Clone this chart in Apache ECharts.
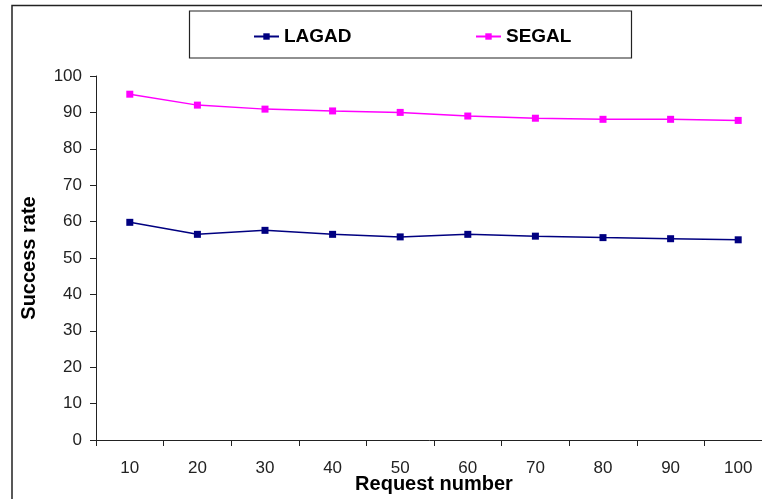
<!DOCTYPE html>
<html>
<head>
<meta charset="utf-8">
<script src="https://cdn.jsdelivr.net/npm/echarts@6/dist/echarts.min.js"></script>
<style>
html,body{margin:0;padding:0;background:#fff;}
#c{width:762px;height:499px;}
</style>
</head>
<body>
<div id="c"></div>
<script>
var categories = ['10','20','30','40','50','60','70','80','90','100'];
var lagad = [59.8, 56.5, 57.6, 56.5, 55.8, 56.5, 56.0, 55.6, 55.3, 55.0];
var segal = [95.0, 92.0, 90.9, 90.4, 90.0, 89.0, 88.4, 88.1, 88.1, 87.8];
var yTicks = {min: 0, max: 100, interval: 10};

var font = 'Liberation Sans, Arial, sans-serif';
var chart = echarts.init(document.getElementById('c'), null, {renderer: 'canvas'});
chart.setOption({
  animation: false,
  backgroundColor: '#fff',
  graphic: [
    {type: 'polyline', shape: {points: [[12, 499], [12, 5.5], [762, 5.5]]}, style: {stroke: '#222', lineWidth: 1.5, fill: null}},
    {type: 'rect', shape: {x: 189.5, y: 11, width: 442, height: 47}, style: {stroke: '#222', lineWidth: 1.2, fill: '#fff'}, z: -1}
  ],
  legend: [
    {data: ['LAGAD'], left: 248, top: 22, itemWidth: 25, itemHeight: 8, textStyle: {fontFamily: font, fontSize: 19, fontWeight: 'bold', color: '#000'}},
    {data: ['SEGAL'], left: 470, top: 22, itemWidth: 25, itemHeight: 8, textStyle: {fontFamily: font, fontSize: 19, fontWeight: 'bold', color: '#000'}}
  ],
  grid: {left: 96, right: -10, top: 76, bottom: 59, containLabel: false, outerBoundsMode: 'none'},
  xAxis: {
    type: 'category',
    data: categories,
    boundaryGap: true,
    name: 'Request number',
    nameLocation: 'middle',
    nameGap: 34,
    nameMoveOverlap: false,
    nameTextStyle: {fontFamily: font, fontSize: 20, fontWeight: 'bold', color: '#000'},
    axisLine: {lineStyle: {color: '#222', width: 1}},
    axisTick: {show: true, length: 6, lineStyle: {color: '#222'}},
    axisLabel: {fontFamily: font, fontSize: 17, color: '#222', margin: 20},
    splitLine: {show: false}
  },
  yAxis: {
    type: 'value',
    min: yTicks.min, max: yTicks.max, interval: yTicks.interval,
    name: 'Success rate',
    nameLocation: 'middle',
    nameGap: 57,
    nameMoveOverlap: false,
    nameTextStyle: {fontFamily: font, fontSize: 20, fontWeight: 'bold', color: '#000'},
    axisLine: {show: true, lineStyle: {color: '#222', width: 1}},
    axisTick: {show: true, length: 6, lineStyle: {color: '#222'}},
    axisLabel: {fontFamily: font, fontSize: 17, color: '#222', margin: 14},
    splitLine: {show: false}
  },
  series: [
    {name: 'LAGAD', type: 'line', data: lagad, symbol: 'rect', symbolSize: 7,
     itemStyle: {color: '#000080'}, lineStyle: {color: '#000080', width: 1.5}},
    {name: 'SEGAL', type: 'line', data: segal, symbol: 'rect', symbolSize: 7,
     itemStyle: {color: '#FF00FF'}, lineStyle: {color: '#FF00FF', width: 1.5}}
  ]
});
</script>
</body>
</html>
